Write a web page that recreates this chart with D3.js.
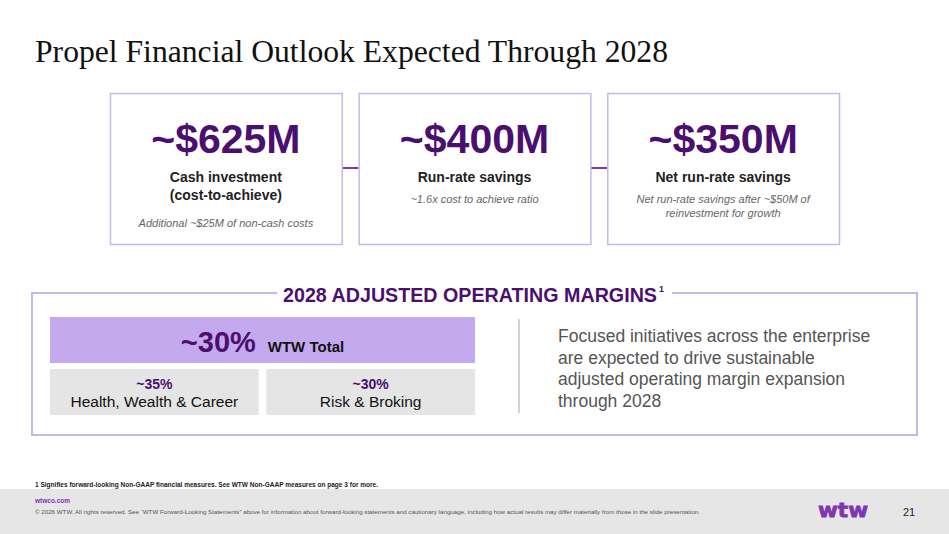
<!DOCTYPE html>
<html>
<head>
<meta charset="utf-8">
<script src="https://cdn.jsdelivr.net/npm/d3@7"></script>
<style>
  body { margin: 0; background: #fff; }
  svg { display: block; font-family: "Liberation Sans", Arial, sans-serif; }
</style>
</head>
<body>
<svg id="chart" width="949" height="534"></svg>
<script>
// slide data
const cardValues = ["~$625M", "~$400M", "~$350M"];
const cardLabels = [["Cash investment", "(cost-to-achieve)"], ["Run-rate savings"], ["Net run-rate savings"]];
const cardNotes = [["Additional ~$25M of non-cash costs"], ["~1.6x cost to achieve ratio"], ["Net run-rate savings after ~$50M of", "reinvestment for growth"]];

const totalMargin = "~30%";
const totalLabel = "WTW Total";
const segmentNames = ["Health, Wealth & Career", "Risk & Broking"];
const segmentMargins = ["~35%", "~30%"];
const outlookLines = ["Focused initiatives across the enterprise", "are expected to drive sustainable",
    "adjusted operating margin expansion", "through 2028"];

const PURPLE_DARK = "#4b0f70";
const PURPLE_LINE = "#c9b6ec";

let svg = d3.select("#chart");

svg.append("text")
    .attr("x", 35).attr("y", 62)
    .attr("textLength", 633).attr("lengthAdjust", "spacingAndGlyphs")
    .style("font-family", '"Liberation Serif", "Times New Roman", serif')
    .style("font-size", "31px")
    .attr("fill", "#111")
    .text("Propel Financial Outlook Expected Through 2028");

// three cards, placed with a band scale
let cardX = d3.scaleBand().domain(d3.range(cardValues.length)).range([110, 839]).paddingInner(0.068);
const cardTop = 93, cardH = 151;

// connectors between cards
svg.append("g").selectAll("line")
    .data(d3.range(cardValues.length - 1))
    .join("line")
    .attr("x1", i => cardX(i) + cardX.bandwidth())
    .attr("x2", i => cardX(i + 1))
    .attr("y1", 168).attr("y2", 168)
    .attr("stroke", "#7b3bb3").attr("stroke-width", 2);

let cards = svg.append("g").selectAll("g")
    .data(d3.range(cardValues.length))
    .join("g")
    .attr("transform", i => `translate(${cardX(i)},${cardTop})`);

cards.append("rect")
    .attr("x", 0.5).attr("y", 0.5)
    .attr("width", cardX.bandwidth()).attr("height", cardH)
    .attr("fill", "#fff").attr("stroke", PURPLE_LINE).attr("stroke-width", 1.5);

let cx = cardX.bandwidth() / 2;

cards.append("text")
    .attr("x", cx).attr("y", 60)
    .attr("text-anchor", "middle")
    .style("font-size", "41px").style("font-weight", "bold")
    .attr("fill", PURPLE_DARK)
    .text(i => cardValues[i]);

cards.each(function (i) {
    let g = d3.select(this);
    cardLabels[i].forEach((t, k) => {
        g.append("text")
            .attr("x", cx).attr("y", 89 + k * 17.5)
            .attr("text-anchor", "middle")
            .style("font-size", "14px").style("font-weight", "bold")
            .attr("fill", "#222")
            .text(t);
    });
    let noteTop = cardLabels[i].length > 1 ? 134 : 110;
    cardNotes[i].forEach((t, k) => {
        g.append("text")
            .attr("x", cx).attr("y", noteTop + k * 13.5)
            .attr("text-anchor", "middle")
            .style("font-size", "11px").style("font-style", "italic")
            .attr("fill", "#666")
            .text(t);
    });
});

// margins panel
const panel = { x: 32, y: 293, w: 885, h: 142 };
let pg = svg.append("g");
let headline = "2028 ADJUSTED OPERATING MARGINS";
let gapL = 277, gapR = 672;
pg.append("path")
    .attr("d", `M${gapL},${panel.y} H${panel.x} V${panel.y + panel.h} H${panel.x + panel.w} V${panel.y} H${gapR}`)
    .attr("fill", "none").attr("stroke", PURPLE_LINE).attr("stroke-width", 2);

let ht = pg.append("text")
    .attr("x", 283).attr("y", 302)
    .style("font-size", "19.5px").style("font-weight", "bold")
    .attr("fill", PURPLE_DARK);
ht.append("tspan").attr("textLength", 374).attr("lengthAdjust", "spacingAndGlyphs").text(headline);
ht.append("tspan").attr("dy", -10).attr("dx", 2).style("font-size", "9px").text("1");

// total margin bar
const barX0 = 50, barX1 = 475;
pg.append("rect")
    .attr("x", barX0).attr("y", 317).attr("width", barX1 - barX0).attr("height", 46)
    .attr("fill", "#c5a9ef");

let tt = pg.append("text")
    .attr("x", (barX0 + barX1) / 2 + 0).attr("y", 352)
    .attr("text-anchor", "middle");
tt.append("tspan").style("font-size", "29px").style("font-weight", "bold").attr("fill", PURPLE_DARK).text(totalMargin);
tt.append("tspan").attr("dx", 12).style("font-size", "15px").style("font-weight", "bold").attr("fill", "#111").text(totalLabel);

// segment boxes
let segX = d3.scaleBand().domain(d3.range(segmentNames.length)).range([barX0, barX1]).paddingInner(0.035);
let segs = pg.append("g").selectAll("g")
    .data(d3.range(segmentNames.length))
    .join("g")
    .attr("transform", i => `translate(${segX(i)},369)`);

segs.append("rect")
    .attr("width", segX.bandwidth()).attr("height", 46)
    .attr("fill", "#e5e5e5");

segs.append("text")
    .attr("x", segX.bandwidth() / 2).attr("y", 20)
    .attr("text-anchor", "middle")
    .style("font-size", "14px").style("font-weight", "bold")
    .attr("fill", PURPLE_DARK)
    .text(i => segmentMargins[i]);

segs.append("text")
    .attr("x", segX.bandwidth() / 2).attr("y", 38)
    .attr("text-anchor", "middle")
    .style("font-size", "15.5px")
    .attr("fill", "#111")
    .text(i => segmentNames[i]);

// divider + outlook text
pg.append("line")
    .attr("x1", 519).attr("x2", 519).attr("y1", 319).attr("y2", 413)
    .attr("stroke", "#c4c4c4").attr("stroke-width", 1.5);

pg.append("g").selectAll("text")
    .data(outlookLines)
    .join("text")
    .attr("x", 558).attr("y", (d, i) => 342 + i * 21.7)
    .style("font-size", "17.5px")
    .attr("fill", "#555")
    .text(d => d);

// footnote and footer
svg.append("text")
    .attr("x", 35).attr("y", 487)
    .attr("textLength", 343).attr("lengthAdjust", "spacingAndGlyphs")
    .style("font-size", "7px").style("font-weight", "bold")
    .attr("fill", "#222")
    .text("1 Signifies forward-looking Non-GAAP financial measures. See WTW Non-GAAP measures on page 3 for more.");

svg.append("rect")
    .attr("x", 0).attr("y", 489).attr("width", 949).attr("height", 45)
    .attr("fill", "#e6e6e6");

svg.append("text")
    .attr("x", 35).attr("y", 503)
    .style("font-size", "6.5px").style("font-weight", "bold")
    .attr("fill", "#7f35b2")
    .text("wtwco.com");

svg.append("text")
    .attr("x", 35).attr("y", 514)
    .attr("textLength", 665).attr("lengthAdjust", "spacingAndGlyphs")
    .style("font-size", "6px")
    .attr("fill", "#555")
    .text("\u00A9 2026 WTW. All rights reserved. See \u201CWTW Forward-Looking Statements\u201D above for information about forward-looking statements and cautionary language, including how actual results may differ materially from those in the slide presentation.");

svg.append("text")
    .attr("x", 818).attr("y", 517)
    .attr("textLength", 50).attr("lengthAdjust", "spacingAndGlyphs")
    .style("font-family", '"DejaVu Sans", sans-serif')
    .style("font-size", "20px").style("font-weight", "bold")
    .attr("stroke", "#7f35b2").attr("stroke-width", 0.8)
    .attr("fill", "#7f35b2")
    .text("wtw");

svg.append("text")
    .attr("x", 903).attr("y", 516)
    .style("font-size", "11px")
    .attr("fill", "#222")
    .text("21");
</script>
</body>
</html>
